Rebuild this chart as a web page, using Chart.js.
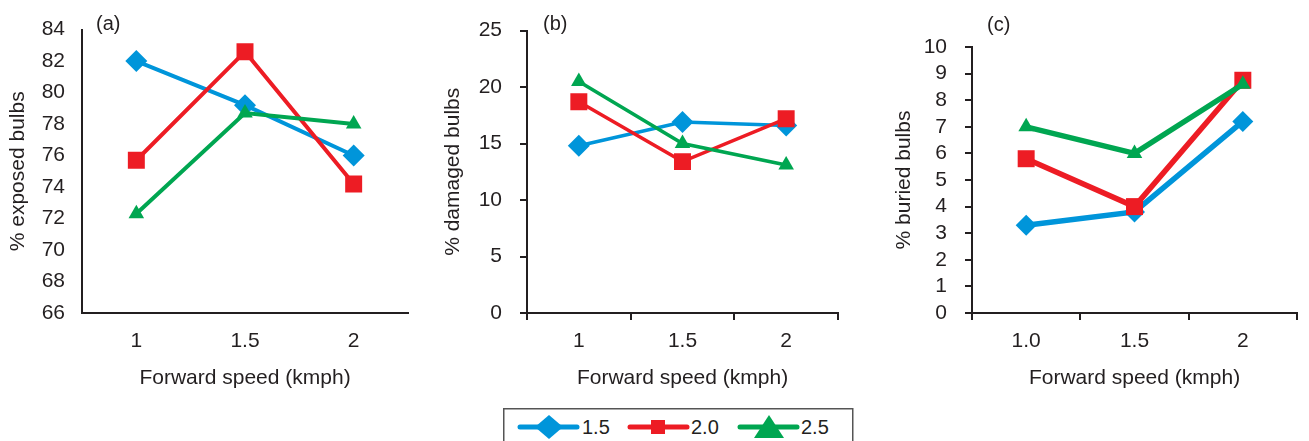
<!DOCTYPE html>
<html>
<head>
<meta charset="utf-8">
<script src="https://cdn.jsdelivr.net/npm/chart.js@4"></script>
<style>
  html, body { margin: 0; padding: 0; background: #fff; }
  body { width: 1309px; height: 441px; position: relative; overflow: hidden;
         font-family: 'Liberation Sans', Arial, sans-serif; color: #231f20; }
  .panel { position: absolute; top: 0; height: 400px; }
  .tag { position: absolute; font-size: 20px; line-height: 20px; }
  #legend { position: absolute; left: 503px; top: 408px; }
</style>
</head>
<body>
<div class="panel" id="pa" style="left:0;width:420px"><canvas id="chartA"></canvas></div>
<div class="panel" id="pb" style="left:430px;width:420px"><canvas id="chartB"></canvas></div>
<div class="panel" id="pc" style="left:870px;width:439px"><canvas id="chartC"></canvas></div>
<div class="tag" style="left:96px;top:13px">(a)</div>
<div class="tag" style="left:543px;top:13px">(b)</div>
<div class="tag" style="left:987px;top:14px">(c)</div>
<svg id="legend" width="352" height="40"></svg>

<script>
// ── data ──────────────────────────────────────────────
const speedLabels   = ['1', '1.5', '2'];
const speedLabelsC  = ['1.0', '1.5', '2'];
const seriesNames   = ['1.5', '2.0', '2.5'];
const seriesColors  = ['#0095da', '#ed1c24', '#00a651'];
const seriesShapes  = ['rectRot', 'rect', 'triangle'];

const exposed15 = [82.0, 79.2, 76.0];
const exposed20 = [75.7, 82.6, 74.2];
const exposed25 = [72.3, 78.7, 78.0];

const damaged15 = [14.8, 16.9, 16.6];
const damaged20 = [18.7, 13.4, 17.2];
const damaged25 = [20.5, 15.0, 13.1];

const buried15  = [3.3, 3.8, 7.2];
const buried20  = [5.8, 4.0, 8.75];
const buried25  = [7.0, 6.0, 8.6];

const INK = '#231f20';
Chart.defaults.font.family = "'Liberation Sans', Arial, sans-serif";
Chart.defaults.color = INK;

function _datasets(values, lineWidth, radii) {
  return values.map((v, i) => ({
    label:               seriesNames[i],
    data:                v,
    borderColor:         seriesColors[i],
    backgroundColor:     seriesColors[i],
    pointBackgroundColor: seriesColors[i],
    pointBorderWidth:    0,
    pointStyle:          seriesShapes[i],
    pointRadius:         radii[i],
    borderWidth:         lineWidth,
    tension:             0,
    order:               2 - i
  }));
}

function _panel(canvasId, labels, values, o) {
  return new Chart(document.getElementById(canvasId), {
    type: 'line',
    data: { labels: labels, datasets: _datasets(values, o.lineWidth, o.radii) },
    options: {
      responsive: false,
      animation: false,
      events: [],
      layout: { padding: { top: o.top, right: o.right, bottom: 0, left: 0 } },
      plugins: { legend: { display: false }, tooltip: { enabled: false } },
      scales: {
        x: {
          offset: true,
          grid: { offset: true, drawOnChartArea: false, drawTicks: o.ticks, tickLength: 7, color: INK, lineWidth: 2 },
          border: { color: INK, width: 2 },
          ticks: { font: { size: 21 }, padding: o.ticks ? 9 : 16, color: INK },
          title: { display: true, text: 'Forward speed (kmph)', font: { size: 21 }, padding: { top: 9, bottom: 9 } },
          afterFit: s => { s.height = 87; }
        },
        y: {
          min: o.min, max: o.max,
          ticks: { stepSize: o.step, autoSkip: false, font: { size: 21 }, padding: o.ticks ? 18 : 17, color: INK },
          grid: { drawOnChartArea: false, drawTicks: o.ticks, tickLength: 7, color: INK, lineWidth: 2 },
          border: { color: INK, width: 2 },
          title: { display: true, text: o.yTitle, font: { size: 21 }, padding: { top: o.yTitlePad, bottom: o.yTitlePad } },
          afterFit: s => { s.width = o.yWidth; }
        }
      }
    }
  });
}

function _size(id, w) {
  const c = document.getElementById(id);
  c.width = w; c.height = 400;
  c.style.width = w + 'px'; c.style.height = '400px';
}

_size('chartA', 420); _size('chartB', 420); _size('chartC', 439);

_panel('chartA', speedLabels, [exposed15, exposed20, exposed25], {
  min: 66, max: 84, step: 2, yTitle: '% exposed bulbs', ticks: false,
  top: 29, right: 12, yWidth: 82, yTitlePad: 6, lineWidth: 4, radii: [11, 12, 9]
});
_panel('chartB', speedLabels, [damaged15, damaged20, damaged25], {
  min: 0, max: 25, step: 5, yTitle: '% damaged bulbs', ticks: true,
  top: 24, right: 12, yWidth: 97, yTitlePad: 11, lineWidth: 3.5, radii: [11, 12, 9]
});
_panel('chartC', speedLabelsC, [buried15, buried20, buried25], {
  min: 0, max: 10, step: 1, yTitle: '% buried bulbs', ticks: true,
  top: 47, right: 3, yWidth: 102, yTitlePad: 22, lineWidth: 5.5, radii: [10.5, 12, 9]
});

// ── shared legend ─────────────────────────────────────
(function _legend() {
  const svg = document.getElementById('legend');
  const cy = 19, lineX = [17, 127, 237], markX = [46, 155, 266], textX = [79, 188, 298];
  const shapes = [
    (x) => `${x},${cy - 12} ${x + 14},${cy} ${x},${cy + 12} ${x - 14},${cy}`,
    (x) => `${x - 7},${cy - 7} ${x + 7},${cy - 7} ${x + 7},${cy + 7} ${x - 7},${cy + 7}`,
    (x) => `${x},${cy - 12} ${x + 15},${cy + 11} ${x - 15},${cy + 11}`
  ];
  let html = `<rect x="0.75" y="0.75" width="349" height="45" fill="none" stroke="#555" stroke-width="1.5"/>`;
  seriesNames.forEach((name, i) => {
    const col = seriesColors[i];
    html += `<line x1="${lineX[i]}" y1="${cy}" x2="${lineX[i] + 57}" y2="${cy}" stroke="${col}" stroke-width="5" stroke-linecap="round"/>`;
    html += `<polygon points="${shapes[i](markX[i])}" fill="${col}"/>`;
    html += `<text x="${textX[i]}" y="${cy + 7}" font-size="20" fill="${INK}" font-family="Liberation Sans, Arial, sans-serif">${name}</text>`;
  });
  svg.innerHTML = html;
})();
</script>
</body>
</html>
